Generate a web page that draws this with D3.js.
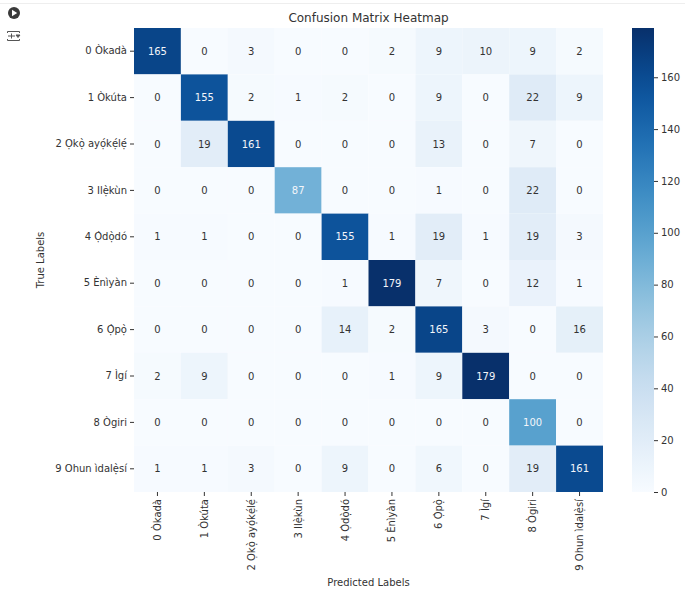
<!DOCTYPE html>
<html>
<head>
<meta charset="utf-8">
<script src="https://cdn.jsdelivr.net/npm/d3@7"></script>
<style>
  body { margin: 0; background: #fff; }
  text { font-family: "DejaVu Sans", sans-serif; }
</style>
</head>
<body>
<div id="canvas"></div>
<script>
(function (d3) {
  'use strict';

  const width = 685;
  const height = 590;

  // data
  const classes = [
    '0 Òkadà', '1 Òkúta', '2 Ọkọ̀ ayọ́kẹ́lẹ́', '3 Ilẹ̀kùn', '4 Ọ̀dọ̀dó',
    '5 Ènìyàn', '6 Ọ̀pọ̀', '7 Ìgí', '8 Ògiri', '9 Ohun ìdalẹ̀sí'
  ];
  const matrix = [
    [165, 0, 3, 0, 0, 2, 9, 10, 9, 2],
    [0, 155, 2, 1, 2, 0, 9, 0, 22, 9],
    [0, 19, 161, 0, 0, 0, 13, 0, 7, 0],
    [0, 0, 0, 87, 0, 0, 1, 0, 22, 0],
    [1, 1, 0, 0, 155, 1, 19, 1, 19, 3],
    [0, 0, 0, 0, 1, 179, 7, 0, 12, 1],
    [0, 0, 0, 0, 14, 2, 165, 3, 0, 16],
    [2, 9, 0, 0, 0, 1, 9, 179, 0, 0],
    [0, 0, 0, 0, 0, 0, 0, 0, 100, 0],
    [1, 1, 3, 0, 9, 0, 6, 0, 19, 161]
  ];
  const colorbarTicks = [0, 20, 40, 60, 80, 100, 120, 140, 160];

  const cells = [];
  matrix.forEach((row, i) => row.forEach((v, j) => {
    cells.push({ row: i, col: j, value: v });
  }));
  const vmax = d3.max(cells, (d) => d.value);

  const plot = { left: 134, top: 28, right: 603, bottom: 492 };
  const cbar = { left: 632, right: 654 };
  const ink = '#333333';

  const svg = d3.select('#canvas')
    .append('svg')
    .attr('width', width)
    .attr('height', height);

  // notebook strip + icons
  svg.append('line')
    .attr('x1', 0).attr('x2', width)
    .attr('y1', 3.5).attr('y2', 3.5)
    .attr('stroke', '#eeeeee');
  svg.append('circle')
    .attr('cx', 14).attr('cy', 13).attr('r', 6)
    .attr('fill', '#3a3a3a');
  svg.append('path')
    .attr('d', 'M12,9.8 L17.2,13 L12,16.2 Z')
    .attr('fill', '#fff');
  const icon = svg.append('g')
    .attr('fill', 'none')
    .attr('stroke', '#555')
    .attr('stroke-width', 1);
  icon.append('path').attr('d', 'M7.5,33 L7.5,31.5 L19.5,31.5 L19.5,33');
  icon.append('path').attr('d', 'M7.5,39 L7.5,40.5 L19.5,40.5 L19.5,39');
  icon.append('path').attr('d', 'M8,36 L15,36 M11.5,33.5 L11.5,38.5');
  icon.append('path').attr('d', 'M16,35 L20,35 L18,37.5 Z').attr('fill', '#555');

  const x = d3.scaleBand()
    .domain(d3.range(classes.length))
    .range([plot.left, plot.right]);
  const y = d3.scaleBand()
    .domain(d3.range(classes.length))
    .range([plot.top, plot.bottom]);
  const color = d3.scaleSequential(d3.interpolateBlues).domain([0, vmax]);

  const textColor = (v) => {
    const c = d3.rgb(color(v));
    const lin = [c.r, c.g, c.b].map((u) => {
      u = u / 255;
      return u <= 0.03928 ? u / 12.92 : Math.pow((u + 0.055) / 1.055, 2.4);
    });
    const lum = 0.2126 * lin[0] + 0.7152 * lin[1] + 0.0722 * lin[2];
    return lum > 0.408 ? ink : '#f4f6fa';
  };

  svg.append('g')
    .selectAll('rect')
    .data(cells)
    .enter()
    .append('rect')
    .attr('x', (d) => x(d.col))
    .attr('y', (d) => y(d.row))
    .attr('width', x.bandwidth())
    .attr('height', y.bandwidth())
    .attr('fill', (d) => color(d.value));

  svg.append('g')
    .selectAll('text')
    .data(cells)
    .enter()
    .append('text')
    .attr('x', (d) => x(d.col) + x.bandwidth() / 2)
    .attr('y', (d) => y(d.row) + y.bandwidth() / 2)
    .attr('text-anchor', 'middle')
    .attr('dominant-baseline', 'central')
    .style('font-size', '10px')
    .attr('fill', (d) => textColor(d.value))
    .text((d) => d.value);

  // axes
  const yAxis = svg.append('g')
    .attr('transform', `translate(${plot.left},0)`)
    .call(d3.axisLeft(y).tickSize(4).tickPadding(3).tickFormat((i) => classes[i]));
  yAxis.select('.domain').remove();
  yAxis.selectAll('text').style('font-size', '10px').attr('fill', ink);
  yAxis.selectAll('line').attr('stroke', ink);

  const xAxis = svg.append('g')
    .attr('transform', `translate(0,${plot.bottom})`)
    .call(d3.axisBottom(x).tickSize(4).tickPadding(3).tickFormat((i) => classes[i]));
  xAxis.select('.domain').remove();
  xAxis.selectAll('line').attr('stroke', ink);
  xAxis.selectAll('text')
    .style('font-size', '10px')
    .attr('fill', ink)
    .attr('text-anchor', 'end')
    .attr('dy', null)
    .attr('dominant-baseline', 'central')
    .attr('transform', 'rotate(-90)')
    .attr('x', -7)
    .attr('y', 0);

  // titles
  svg.append('text')
    .attr('x', (plot.left + plot.right) / 2)
    .attr('y', 22)
    .attr('text-anchor', 'middle')
    .style('font-size', '12px')
    .attr('fill', ink)
    .text('Confusion Matrix Heatmap');

  svg.append('text')
    .attr('x', (plot.left + plot.right) / 2)
    .attr('y', 586)
    .attr('text-anchor', 'middle')
    .style('font-size', '10px')
    .attr('fill', ink)
    .text('Predicted Labels');

  svg.append('text')
    .attr('transform', `translate(44,${(plot.top + plot.bottom) / 2}) rotate(-90)`)
    .attr('text-anchor', 'middle')
    .style('font-size', '10px')
    .attr('fill', ink)
    .text('True Labels');

  // colorbar
  const cy = d3.scaleLinear().domain([0, vmax]).range([plot.bottom, plot.top]);
  const grad = svg.append('defs')
    .append('linearGradient')
    .attr('id', 'cbar-grad')
    .attr('x1', 0).attr('x2', 0).attr('y1', 1).attr('y2', 0);
  grad.selectAll('stop')
    .data(d3.range(0, 1.0001, 0.05))
    .enter()
    .append('stop')
    .attr('offset', (t) => t)
    .attr('stop-color', (t) => color(t * vmax));
  svg.append('rect')
    .attr('x', cbar.left)
    .attr('y', plot.top)
    .attr('width', cbar.right - cbar.left)
    .attr('height', plot.bottom - plot.top)
    .attr('fill', 'url(#cbar-grad)');

  const cAxis = svg.append('g')
    .attr('transform', `translate(${cbar.right},0)`)
    .call(d3.axisRight(cy).tickValues(colorbarTicks).tickSize(4).tickPadding(3));
  cAxis.select('.domain').remove();
  cAxis.selectAll('text').style('font-size', '10px').attr('fill', ink);
  cAxis.selectAll('line').attr('stroke', ink);

}(d3));
</script>
</body>
</html>
